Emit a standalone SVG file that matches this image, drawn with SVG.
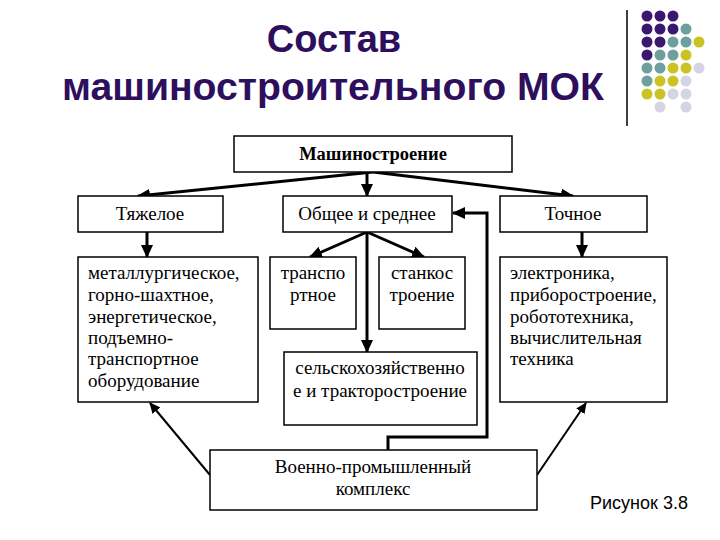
<svg xmlns="http://www.w3.org/2000/svg" width="720" height="540" viewBox="0 0 720 540">
<defs>
<marker id="ah" markerUnits="userSpaceOnUse" markerWidth="14" markerHeight="12" refX="12" refY="6" orient="auto">
<path d="M0,0 L13,6 L0,12 Z" fill="#000"/>
</marker>
<marker id="ahs" markerUnits="userSpaceOnUse" markerWidth="12" markerHeight="10" refX="10" refY="5" orient="auto">
<path d="M0,0 L11,5 L0,10 Z" fill="#000"/>
</marker>
</defs>
<style>
.title{font-family:"Liberation Sans",Arial,sans-serif;font-weight:bold;font-size:38px;fill:#2e0f5e;text-anchor:middle}
.box{fill:#fff;stroke:#000;stroke-width:1.5}
.t{font-family:"Liberation Serif","Times New Roman",serif;font-size:19px;fill:#000}
.c{text-anchor:middle}
.b{font-weight:bold;font-size:18.5px}
.con{fill:none;stroke:#000;stroke-width:3}
.thin{fill:none;stroke:#000;stroke-width:2}
.D{fill:#3b1870}.T{fill:#6e9f9f}.Y{fill:#c9c424}.L{fill:#d3d6e2}
.cap{font-family:"Liberation Sans",Arial,sans-serif;font-size:18px;fill:#000}
</style>
<rect width="720" height="540" fill="#fff"/>
<g id="title">
<text class="title" x="334" y="52">Состав</text>
<text class="title" x="333" y="100" textLength="542" lengthAdjust="spacingAndGlyphs">машиностроительного МОК</text>
</g>
<g id="decor">
<line x1="627" y1="10" x2="627" y2="126" stroke="#000" stroke-width="1.5"/>
<circle class="D" cx="647" cy="16" r="5.5"/><circle class="D" cx="660" cy="16" r="5.5"/><circle class="D" cx="673" cy="16" r="5.5"/>
<circle class="D" cx="647" cy="29" r="5.5"/><circle class="D" cx="660" cy="29" r="5.5"/><circle class="D" cx="673" cy="29" r="5.5"/><circle class="T" cx="686" cy="29" r="5.5"/>
<circle class="D" cx="647" cy="42" r="5.5"/><circle class="D" cx="660" cy="42" r="5.5"/><circle class="T" cx="673" cy="42" r="5.5"/><circle class="T" cx="686" cy="42" r="5.5"/><circle class="Y" cx="699" cy="42" r="5.5"/>
<circle class="D" cx="647" cy="55" r="5.5"/><circle class="T" cx="660" cy="55" r="5.5"/><circle class="T" cx="673" cy="55" r="5.5"/><circle class="Y" cx="686" cy="55" r="5.5"/>
<circle class="T" cx="647" cy="68" r="5.5"/><circle class="T" cx="660" cy="68" r="5.5"/><circle class="Y" cx="673" cy="68" r="5.5"/><circle class="Y" cx="686" cy="68" r="5.5"/><circle class="L" cx="699" cy="68" r="5.5"/>
<circle class="T" cx="647" cy="81" r="5.5"/><circle class="Y" cx="660" cy="81" r="5.5"/><circle class="Y" cx="673" cy="81" r="5.5"/><circle class="L" cx="686" cy="81" r="5.5"/>
<circle class="Y" cx="647" cy="94" r="5.5"/><circle class="Y" cx="660" cy="94" r="5.5"/><circle class="L" cx="673" cy="94" r="5.5"/><circle class="L" cx="686" cy="94" r="5.5"/>
<circle class="L" cx="660" cy="107" r="5.5"/><circle class="L" cx="686" cy="107" r="5.5"/>
</g>
<g id="connectors">
<line class="con" x1="373" y1="172" x2="138" y2="196" marker-end="url(#ah)"/>
<line class="con" x1="367" y1="172" x2="367" y2="196" marker-end="url(#ah)"/>
<line class="con" x1="373" y1="172" x2="573" y2="196" marker-end="url(#ah)"/>
<line class="con" x1="147" y1="232" x2="147" y2="257" marker-end="url(#ah)"/>
<line class="con" x1="582" y1="232" x2="582" y2="257" marker-end="url(#ah)"/>
<line class="con" x1="367" y1="232" x2="310" y2="257" marker-end="url(#ah)"/>
<line class="con" x1="367" y1="232" x2="424" y2="257" marker-end="url(#ah)"/>
<line class="con" x1="367" y1="232" x2="367" y2="352" marker-end="url(#ah)"/>
<polyline class="con" points="388,450 388,437 487,437 487,213 453,213" marker-end="url(#ah)"/>
<line class="thin" x1="210" y1="475" x2="150" y2="403" marker-end="url(#ahs)"/>
<line class="thin" x1="537" y1="475" x2="586" y2="403" marker-end="url(#ahs)"/>
</g>
<g id="n-mash">
<rect class="box" x="234" y="136" width="278" height="36"/>
<text class="t c b" x="373" y="160">Машиностроение</text>
</g>
<g id="n-heavy">
<rect class="box" x="78" y="196" width="145" height="36"/>
<text class="t c" x="150" y="220">Тяжелое</text>
</g>
<g id="n-general">
<rect class="box" x="283" y="196" width="169" height="36"/>
<text class="t c" x="367" y="220">Общее и среднее</text>
</g>
<g id="n-precise">
<rect class="box" x="500" y="196" width="147" height="36"/>
<text class="t c" x="573" y="220">Точное</text>
</g>
<g id="n-heavy-list">
<rect class="box" x="78" y="257" width="180" height="145"/>
<text class="t" x="88" y="279">металлургическое,</text>
<text class="t" x="88" y="301">горно-шахтное,</text>
<text class="t" x="88" y="323">энергетическое,</text>
<text class="t" x="88" y="344">подъемно-</text>
<text class="t" x="88" y="365">транспортное</text>
<text class="t" x="88" y="387">оборудование</text>
</g>
<g id="n-transport">
<rect class="box" x="270" y="257" width="86" height="72"/>
<text class="t c" x="313" y="279">транспо</text>
<text class="t c" x="313" y="301">ртное</text>
</g>
<g id="n-machine-tool">
<rect class="box" x="379" y="257" width="86" height="72"/>
<text class="t c" x="422" y="279">станкос</text>
<text class="t c" x="422" y="301">троение</text>
</g>
<g id="n-agri">
<rect class="box" x="284" y="352" width="193" height="73"/>
<text class="t c" x="380" y="374">сельскохозяйственно</text>
<text class="t c" x="380" y="397">е и тракторостроение</text>
</g>
<g id="n-precise-list">
<rect class="box" x="500" y="257" width="167" height="145"/>
<text class="t" x="510" y="279">электроника,</text>
<text class="t" x="510" y="301">приборостроение,</text>
<text class="t" x="510" y="323">робототехника,</text>
<text class="t" x="510" y="344">вычислительная</text>
<text class="t" x="510" y="365">техника</text>
</g>
<g id="n-vpk">
<rect class="box" x="210" y="450" width="327" height="60"/>
<text class="t c" x="373" y="473">Военно-промышленный</text>
<text class="t c" x="373" y="495">комплекс</text>
</g>
<text class="cap" x="590" y="509">Рисунок 3.8</text>
</svg>
